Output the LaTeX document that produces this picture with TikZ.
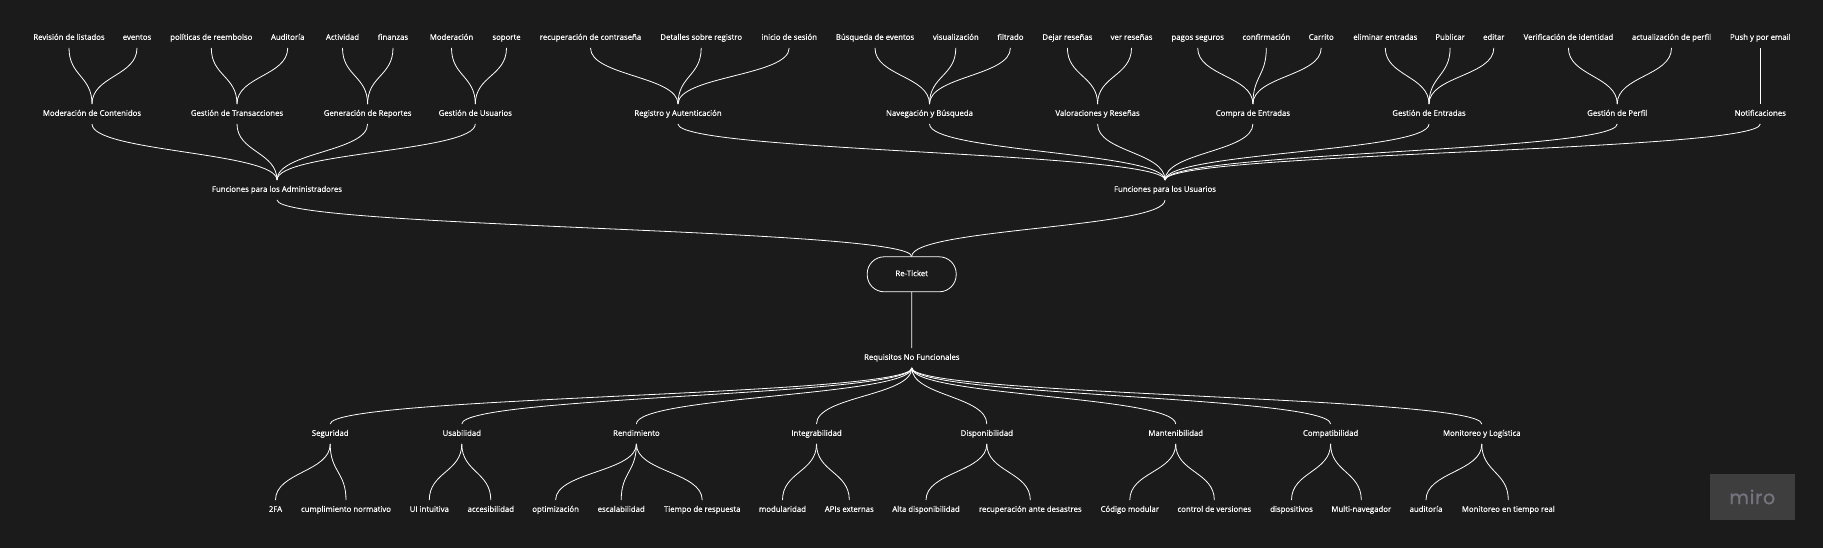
\documentclass[tikz,border=0pt]{standalone}
\usepackage{fontspec}
\setmainfont{Open Sans}[FakeBold=0.6]
\newfontfamily\badgefont{Poppins}[LetterSpace=4,FakeBold=1]
\usepackage{tikz}
\usetikzlibrary{calc}
\definecolor{board}{RGB}{27,27,27}
\definecolor{badgefill}{RGB}{62,62,62}
\definecolor{badgetext}{RGB}{117,115,125}

\begin{document}
\begin{tikzpicture}[x=1pt,y=-1pt]
            \tikzstyle{item}=[text=white, font=\fontsize{7.8}{9}\selectfont, text height=5.6pt, text depth=1.9pt, inner xsep=2pt, inner ysep=6pt]
            \tikzstyle{root}=[item, rectangle, rounded corners=17pt, draw=white, line width=0.8pt, minimum width=89pt, minimum height=35pt, inner ysep=0pt]
            \tikzstyle{badge}=[rectangle, fill=badgefill, text=badgetext, font=\badgefont\fontsize{19}{19}\selectfont, minimum width=85pt, minimum height=46pt]
            \tikzstyle{connect}=[draw=white, line width=0.8pt, to path={let \p1=(\tikztostart), \p2=(\tikztotarget) in .. controls (\x1,{0.5*\y1+0.5*\y2}) and (\x2,{0.5*\y1+0.5*\y2}) .. (\tikztotarget)}]
            \useasboundingbox (0,0) rectangle (1823,548);
            \fill[board] (0,0) rectangle (1823,548);

            % administradores
            \node[item] (A11) at (69,38){Revisión de listados};
            \node[item] (A12) at (137,38){eventos};
            \node[item] (A21) at (211.3,38){políticas de reembolso};
            \node[item] (A22) at (287.7,38){Auditoría};
            \node[item] (A31) at (342.5,38){Actividad};
            \node[item] (A32) at (393,38){finanzas};
            \node[item] (A41) at (451.5,38){Moderación};
            \node[item] (A42) at (506.5,38){soporte};
            \node[item] (A1) at (92,114){Moderación de Contenidos};
            \node[item] (A2) at (237,114){Gestión de Transacciones};
            \node[item] (A3) at (367.6,114){Generación de Reportes};
            \node[item] (A4) at (475.3,114){Gestión de Usuarios};
            \node[item] (FA) at (277,190){Funciones para los Administradores};

            % usuarios
            \node[item] (U11) at (590.5,38){recuperación de contraseña};
            \node[item] (U12) at (701.2,38){Detalles sobre registro};
            \node[item] (U13) at (789.2,38){inicio de sesión};
            \node[item] (U21) at (875,38){Búsqueda de eventos};
            \node[item] (U22) at (955.8,38){visualización};
            \node[item] (U23) at (1010.4,38){filtrado};
            \node[item] (U31) at (1067.4,38){Dejar reseñas};
            \node[item] (U32) at (1131.5,38){ver reseñas};
            \node[item] (U41) at (1197.7,38){pagos seguros};
            \node[item] (U42) at (1266.3,38){confirmación};
            \node[item] (U43) at (1321.2,38){Carrito};
            \node[item] (U51) at (1385.3,38){eliminar entradas};
            \node[item] (U52) at (1450.1,38){Publicar};
            \node[item] (U53) at (1493.8,38){editar};
            \node[item] (U61) at (1568.4,38){Verificación de identidad};
            \node[item] (U62) at (1671.5,38){actualización de perfil};
            \node[item] (U71) at (1760.3,38){Push y por email};
            \node[item] (U1) at (678,114){Registro y Autenticación};
            \node[item] (U2) at (929.5,114){Navegación y Búsqueda};
            \node[item] (U3) at (1097.6,114){Valoraciones y Reseñas};
            \node[item] (U4) at (1252.9,114){Compra de Entradas};
            \node[item] (U5) at (1429,114){Gestión de Entradas};
            \node[item] (U6) at (1617.2,114){Gestión de Perfil};
            \node[item] (U7) at (1760.3,114){Notificaciones};
            \node[item] (FU) at (1165,190){Funciones para los Usuarios};

            \node[root] (RT) at (911.7,274.3){Re-Ticket};
            \node[item] (RNF) at (911.8,358){Requisitos No Funcionales};

            % no funcionales
            \node[item] (N1) at (330.2,434){Seguridad};
            \node[item] (N2) at (461.8,434){Usabilidad};
            \node[item] (N3) at (636.4,434){Rendimiento};
            \node[item] (N4) at (816.5,434){Integrabilidad};
            \node[item] (N5) at (986.8,434){Disponibilidad};
            \node[item] (N6) at (1175.7,434){Mantenibilidad};
            \node[item] (N7) at (1330.6,434){Compatibilidad};
            \node[item] (N8) at (1481.8,434){Monitoreo y Logística};
            \node[item] (N11) at (275.5,510){2FA};
            \node[item] (N12) at (346,510){cumplimiento normativo};
            \node[item] (N21) at (429.3,510){UI intuitiva};
            \node[item] (N22) at (490.8,510){accesibilidad};
            \node[item] (N31) at (555.6,510){optimización};
            \node[item] (N32) at (621.2,510){escalabilidad};
            \node[item] (N33) at (702.2,510){Tiempo de respuesta};
            \node[item] (N41) at (782.5,510){modularidad};
            \node[item] (N42) at (849.3,510){APIs externas};
            \node[item] (N51) at (926,510){Alta disponibilidad};
            \node[item] (N52) at (1030.3,510){recuperación ante desastres};
            \node[item] (N61) at (1129.8,510){Código modular};
            \node[item] (N62) at (1214.3,510){control de versiones};
            \node[item] (N71) at (1291.5,510){dispositivos};
            \node[item] (N72) at (1361.3,510){Multi-navegador};
            \node[item] (N81) at (1426,510){auditoría};
            \node[item] (N82) at (1508.3,510){Monitoreo en tiempo real};

            \node[badge] (logo) at (1752.3,497){miro};

            \path[-] (A11.south) edge [connect] (A1.north);
            \path[-] (A12.south) edge [connect] (A1.north);
            \path[-] (A21.south) edge [connect] (A2.north);
            \path[-] (A22.south) edge [connect] (A2.north);
            \path[-] (A31.south) edge [connect] (A3.north);
            \path[-] (A32.south) edge [connect] (A3.north);
            \path[-] (A41.south) edge [connect] (A4.north);
            \path[-] (A42.south) edge [connect] (A4.north);
            \path[-] (A1.south) edge [connect] (FA.north);
            \path[-] (A2.south) edge [connect] (FA.north);
            \path[-] (A3.south) edge [connect] (FA.north);
            \path[-] (A4.south) edge [connect] (FA.north);

            \path[-] (U11.south) edge [connect] (U1.north);
            \path[-] (U12.south) edge [connect] (U1.north);
            \path[-] (U13.south) edge [connect] (U1.north);
            \path[-] (U21.south) edge [connect] (U2.north);
            \path[-] (U22.south) edge [connect] (U2.north);
            \path[-] (U23.south) edge [connect] (U2.north);
            \path[-] (U31.south) edge [connect] (U3.north);
            \path[-] (U32.south) edge [connect] (U3.north);
            \path[-] (U41.south) edge [connect] (U4.north);
            \path[-] (U42.south) edge [connect] (U4.north);
            \path[-] (U43.south) edge [connect] (U4.north);
            \path[-] (U51.south) edge [connect] (U5.north);
            \path[-] (U52.south) edge [connect] (U5.north);
            \path[-] (U53.south) edge [connect] (U5.north);
            \path[-] (U61.south) edge [connect] (U6.north);
            \path[-] (U62.south) edge [connect] (U6.north);
            \path[-] (U71.south) edge [connect] (U7.north);
            \path[-] (U1.south) edge [connect] (FU.north);
            \path[-] (U2.south) edge [connect] (FU.north);
            \path[-] (U3.south) edge [connect] (FU.north);
            \path[-] (U4.south) edge [connect] (FU.north);
            \path[-] (U5.south) edge [connect] (FU.north);
            \path[-] (U6.south) edge [connect] (FU.north);
            \path[-] (U7.south) edge [connect] (FU.north);

            \path[-] (FA.south) edge [connect] (RT.north);
            \path[-] (FU.south) edge [connect] (RT.north);
            \path[-] (RT.south) edge [connect] (RNF.north);

            \path[-] (RNF.south) edge [connect] (N1.north);
            \path[-] (RNF.south) edge [connect] (N2.north);
            \path[-] (RNF.south) edge [connect] (N3.north);
            \path[-] (RNF.south) edge [connect] (N4.north);
            \path[-] (RNF.south) edge [connect] (N5.north);
            \path[-] (RNF.south) edge [connect] (N6.north);
            \path[-] (RNF.south) edge [connect] (N7.north);
            \path[-] (RNF.south) edge [connect] (N8.north);
            \path[-] (N1.south) edge [connect] (N11.north);
            \path[-] (N1.south) edge [connect] (N12.north);
            \path[-] (N2.south) edge [connect] (N21.north);
            \path[-] (N2.south) edge [connect] (N22.north);
            \path[-] (N3.south) edge [connect] (N31.north);
            \path[-] (N3.south) edge [connect] (N32.north);
            \path[-] (N3.south) edge [connect] (N33.north);
            \path[-] (N4.south) edge [connect] (N41.north);
            \path[-] (N4.south) edge [connect] (N42.north);
            \path[-] (N5.south) edge [connect] (N51.north);
            \path[-] (N5.south) edge [connect] (N52.north);
            \path[-] (N6.south) edge [connect] (N61.north);
            \path[-] (N6.south) edge [connect] (N62.north);
            \path[-] (N7.south) edge [connect] (N71.north);
            \path[-] (N7.south) edge [connect] (N72.north);
            \path[-] (N8.south) edge [connect] (N81.north);
            \path[-] (N8.south) edge [connect] (N82.north);

        \end{tikzpicture}
\end{document}
